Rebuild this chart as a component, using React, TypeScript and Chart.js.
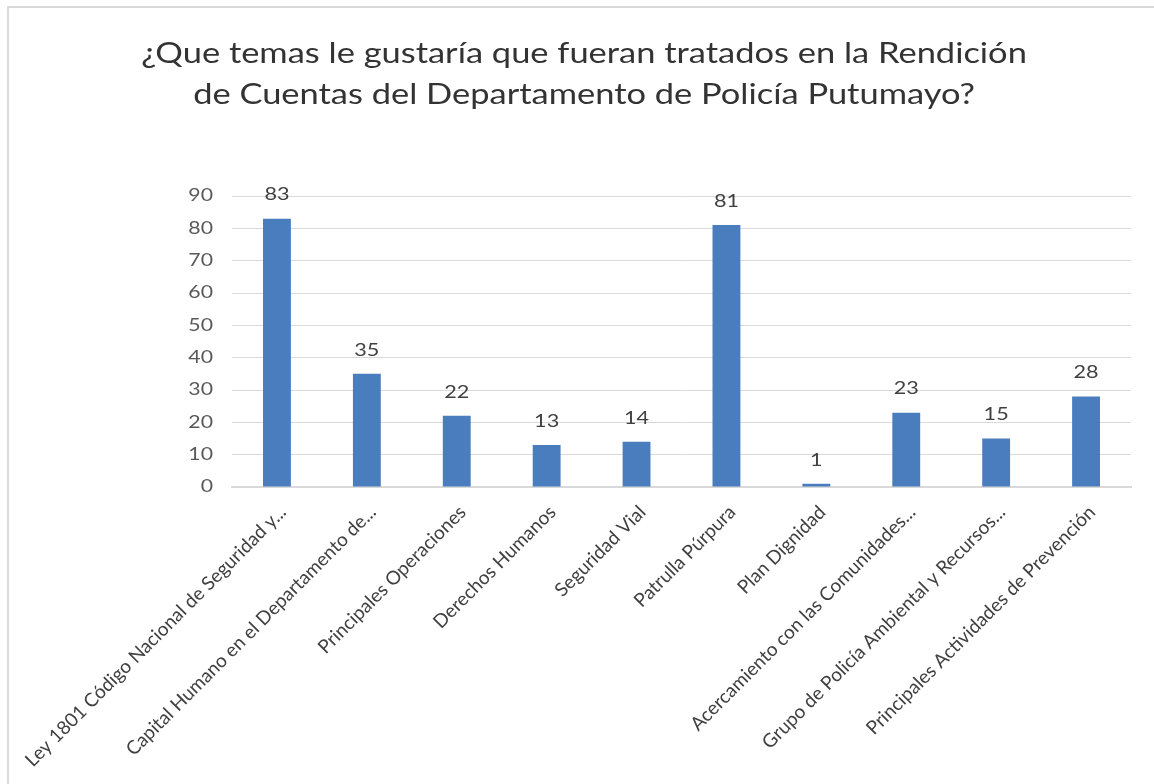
import React, { useEffect, useRef } from "react";
import { Chart, registerables } from "chart.js";

Chart.register(...registerables);

const categories = [
  "Ley 1801 Código Nacional de Seguridad y...",
  "Capital Humano en el Departamento de...",
  "Principales Operaciones",
  "Derechos Humanos",
  "Seguridad Vial",
  "Patrulla Púrpura",
  "Plan Dignidad",
  "Acercamiento con las Comunidades...",
  "Grupo de Policía Ambiental y Recursos...",
  "Principales Actividades de Prevención",
];
const values = [83, 35, 22, 13, 14, 81, 1, 23, 15, 28];
const titleLines = [
  "¿Que temas le gustaría que fueran tratados en la Rendición",
  "de Cuentas del Departamento de Policía Putumayo?",
];
const yMax = 90;
const yStep = 10;

const FONT = "Lato, 'Open Sans', sans-serif";

function stretchedText(ctx: any, text: string, x: number, y: number, sx: number) {
  ctx.save();
  ctx.translate(x, y);
  ctx.scale(sx, 1);
  ctx.fillText(text, 0, 0);
  ctx.restore();
}

const framePlugin = {
  id: "frame",
  beforeDraw(chart: any) {
    const { ctx, width, height } = chart;
    ctx.save();
    ctx.fillStyle = "#ffffff";
    ctx.fillRect(0, 0, width, height);
    ctx.strokeStyle = "#d9d9d9";
    ctx.lineWidth = 2;
    ctx.beginPath();
    ctx.moveTo(8, height);
    ctx.lineTo(8, 7);
    ctx.lineTo(width, 7);
    ctx.stroke();
    ctx.restore();
  },
  afterDraw(chart: any) {
    const { ctx } = chart;
    ctx.save();
    ctx.fillStyle = "#333333";
    ctx.font = `28px ${FONT}`;
    ctx.textAlign = "center";
    ctx.textBaseline = "alphabetic";
    titleLines.forEach((line, i) => {
      stretchedText(ctx, line, 584, 63 + i * 41, 1.23);
    });
    ctx.restore();
  },
};

const yLabelPlugin = {
  id: "yLabels",
  afterDraw(chart: any) {
    const { ctx } = chart;
    const y = chart.scales.y;
    ctx.save();
    ctx.fillStyle = "#595959";
    ctx.font = `17px ${FONT}`;
    ctx.textAlign = "right";
    ctx.textBaseline = "middle";
    y.ticks.forEach((t: any) => {
      stretchedText(ctx, String(t.value), y.right - 19, y.getPixelForValue(t.value), 1.25);
    });
    ctx.restore();
  },
};

const valueLabelPlugin = {
  id: "valueLabels",
  afterDatasetsDraw(chart: any) {
    const { ctx } = chart;
    const meta = chart.getDatasetMeta(0);
    ctx.save();
    ctx.fillStyle = "#404040";
    ctx.font = `18px ${FONT}`;
    ctx.textAlign = "center";
    ctx.textBaseline = "bottom";
    meta.data.forEach((el: any, i: number) => {
      stretchedText(ctx, String(chart.data.datasets[0].data[i]), el.x, el.y - 15, 1.2);
    });
    ctx.restore();
  },
};

export default function App() {
  const ref = useRef<HTMLCanvasElement | null>(null);

  useEffect(() => {
    document.body.style.margin = "0";
    const canvas = ref.current;
    if (!canvas) return;
    const chart = new Chart(canvas, {
      type: "bar",
      data: {
        labels: categories,
        datasets: [
          {
            data: values,
            backgroundColor: "#4a7dbd",
            borderWidth: 0,
            categoryPercentage: 1,
            barPercentage: 0.31,
          },
        ],
      },
      options: {
        responsive: false,
        animation: false,
        devicePixelRatio: 1,
        layout: { padding: { left: 0, right: 23, top: 196, bottom: 0 } },
        plugins: {
          legend: { display: false },
          title: { display: false },
          tooltip: { enabled: false },
        },
        scales: {
          x: {
            grid: { display: false, drawTicks: false },
            border: { display: true, color: "#d9d9d9", width: 2 },
            ticks: {
              autoSkip: false,
              minRotation: 45,
              maxRotation: 45,
              padding: 14,
              labelOffset: 6,
              color: "#404040",
              font: { family: FONT, size: 19 },
            },
            afterFit(scale: any) {
              scale.height = 297;
              scale.paddingLeft = 0;
              scale.paddingRight = 0;
            },
          },
          y: {
            min: 0,
            max: yMax,
            grid: { color: "#d9d9d9", lineWidth: 1, drawTicks: false },
            border: { display: false },
            ticks: {
              stepSize: yStep,
              display: false,
            },
            afterFit(scale: any) {
              scale.width = 232;
            },
          },
        },
      },
      plugins: [framePlugin, yLabelPlugin, valueLabelPlugin],
    });
    return () => chart.destroy();
  }, []);

  return (
    <canvas
      ref={ref}
      width={1154}
      height={784}
      style={{ display: "block", width: "1154px", height: "784px" }}
    />
  );
}
